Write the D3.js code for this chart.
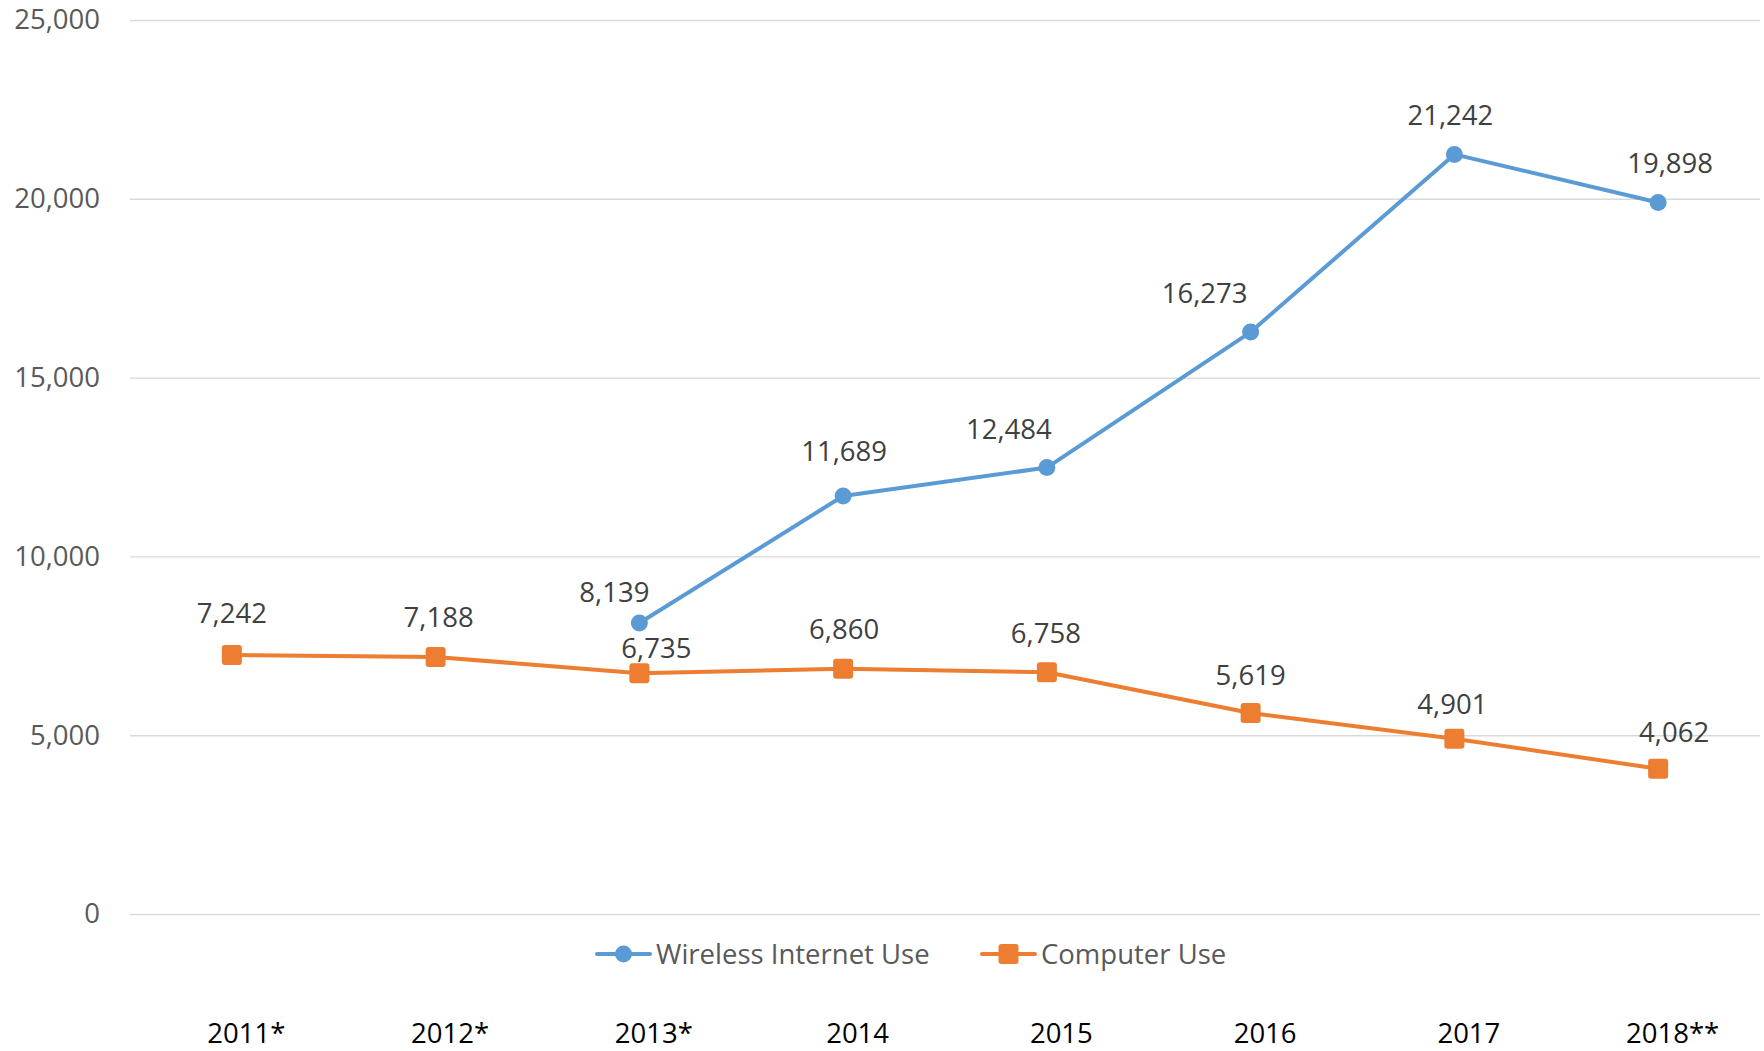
<!DOCTYPE html>
<html><head><meta charset="utf-8">
<script src="https://cdn.jsdelivr.net/npm/d3@7"></script>
<style>
html,body{margin:0;padding:0;background:#fff;}
svg{display:block;font-family:"Open Sans",sans-serif;}
</style></head>
<body>
<svg id="chart" width="1764" height="1051"></svg>
<script>
const categories = ["2011*","2012*","2013*","2014","2015","2016","2017","2018**"];
const wirelessValues = [null,null,8139,11689,12484,16273,21242,19898];
const computerValues = [7242,7188,6735,6860,6758,5619,4901,4062];
const yTicks = [0,5000,10000,15000,20000,25000];
const seriesNames = ["Wireless Internet Use","Computer Use"];

// label placement nudges (layout only)
const wirelessNudge = [null,null,[-25,-31],[1,-45],[-38,-38],[-46,-39],[-4,-39],[12,-39]];
const computerNudge = [[0,-42],[3,-40],[17,-25],[1,-40],[-1,-39],[0,-38],[-2,-35],[16,-37]];

const blue = "#5B9BD5", orange = "#ED7D31";
const svg = d3.select("#chart");
const mLeft = 130, mRight = 1760, mTop = 20, mBottom = 914;

const x = d3.scalePoint().domain(categories).range([mLeft, mRight]).padding(0.5);
const y = d3.scaleLinear().domain([0, 25000]).range([mBottom, mTop]);
const fmt = d3.format(",");

// grid + y axis
const yAxis = d3.axisLeft(y).tickValues(yTicks).tickFormat(fmt).tickSize(-(mRight-mLeft)).tickPadding(30);
const gy = svg.append("g").attr("transform", `translate(${mLeft},0)`).call(yAxis);
gy.select(".domain").remove();
gy.selectAll(".tick line").attr("stroke", "#D9D9D9").attr("stroke-width", 1.4);
gy.selectAll(".tick text").attr("fill", "#595959").attr("font-size", 27.5)
  .attr("font-family", "'Open Sans',sans-serif");

// x axis labels
const xAxis = d3.axisBottom(x).tickSize(0).tickPadding(0);
const gx = svg.append("g").attr("transform", `translate(14,1043)`).call(xAxis);
gx.select(".domain").remove();
gx.selectAll(".tick text").attr("fill", "#000").attr("font-size", 27.5).attr("dy", 0)
  .attr("font-family", "'Open Sans',sans-serif");

function drawSeries(values, color, marker, nudge) {
  const data = categories.map((c, i) => ({c, v: values[i], n: nudge[i]})).filter(d => d.v !== null);
  const line = d3.line().x(d => x(d.c)).y(d => y(d.v));
  svg.append("path").datum(data).attr("d", line).attr("fill", "none")
    .attr("stroke", color).attr("stroke-width", 4).attr("stroke-linejoin", "round");
  const g = svg.append("g");
  if (marker === "circle") {
    g.selectAll("circle").data(data).join("circle")
      .attr("cx", d => x(d.c)).attr("cy", d => y(d.v)).attr("r", 8.5).attr("fill", color);
  } else {
    g.selectAll("rect").data(data).join("rect")
      .attr("x", d => x(d.c) - 10).attr("y", d => y(d.v) - 10)
      .attr("width", 20).attr("height", 20).attr("rx", 3).attr("fill", color);
  }
  svg.append("g").selectAll("text").data(data).join("text")
    .attr("x", d => x(d.c) + d.n[0]).attr("y", d => y(d.v) + d.n[1])
    .attr("dy", "0.36em").attr("text-anchor", "middle")
    .attr("font-size", 27.5).attr("fill", "#404040").text(d => fmt(d.v));
}
drawSeries(computerValues, orange, "square", computerNudge);
drawSeries(wirelessValues, blue, "circle", wirelessNudge);

// legend
const legendItems = [
  {name: seriesNames[0], color: blue, marker: "circle", x0: 597},
  {name: seriesNames[1], color: orange, marker: "square", x0: 982}
];
const ly = 954;
legendItems.forEach(it => {
  const g = svg.append("g");
  g.append("line").attr("x1", it.x0).attr("x2", it.x0 + 53).attr("y1", ly).attr("y2", ly)
    .attr("stroke", it.color).attr("stroke-width", 4).attr("stroke-linecap", "round");
  if (it.marker === "circle") g.append("circle").attr("cx", it.x0 + 26.5).attr("cy", ly).attr("r", 8.5).attr("fill", it.color);
  else g.append("rect").attr("x", it.x0 + 16.5).attr("y", ly - 10).attr("width", 20).attr("height", 20).attr("rx", 3).attr("fill", it.color);
  g.append("text").attr("x", it.x0 + 59).attr("y", ly).attr("dy", "0.36em")
    .attr("font-size", 27.5).attr("fill", "#595959").text(it.name);
});
</script>
</body></html>
